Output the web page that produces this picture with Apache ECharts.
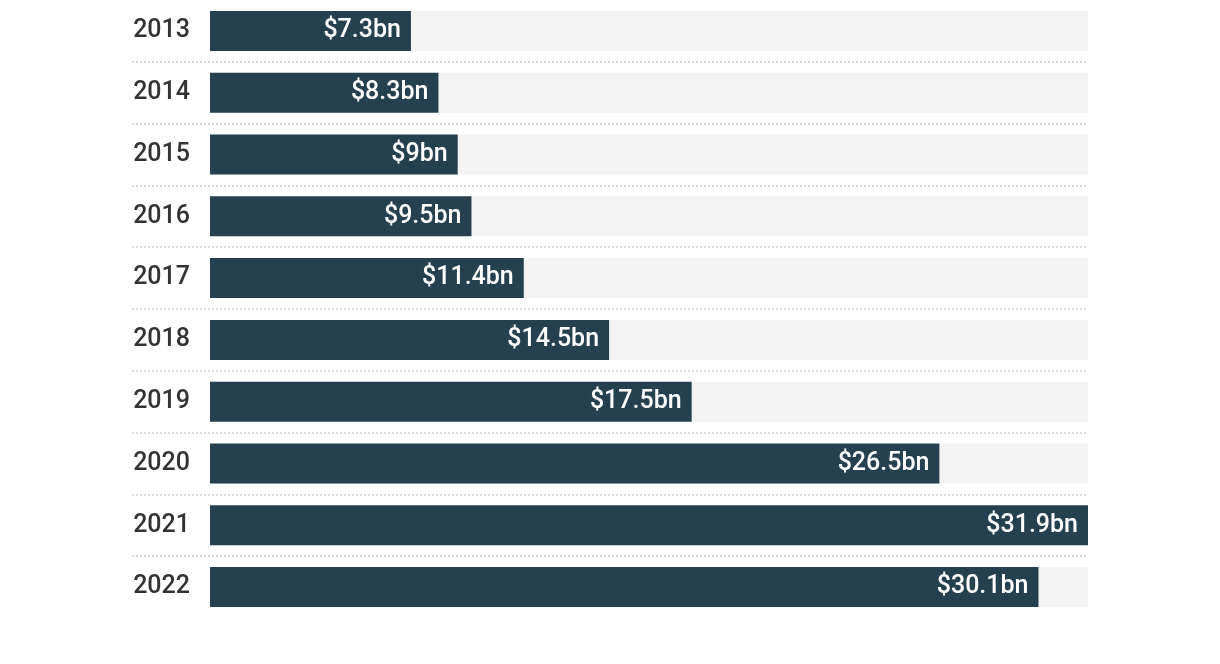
<!DOCTYPE html>
<html>
<head>
<meta charset="utf-8">
<script src="https://cdn.jsdelivr.net/npm/echarts@6/dist/echarts.min.js"></script>
<style>
html,body{margin:0;padding:0;background:#fff;}
#c{width:1220px;height:664px;}
</style>
</head>
<body>
<div id="c"></div>
<script>
const years = ['2013','2014','2015','2016','2017','2018','2019','2020','2021','2022'];
const values = [7.3, 8.3, 9, 9.5, 11.4, 14.5, 17.5, 26.5, 31.9, 30.1];
const valueLabels = ['$7.3bn','$8.3bn','$9bn','$9.5bn','$11.4bn','$14.5bn','$17.5bn','$26.5bn','$31.9bn','$30.1bn'];

const chart = echarts.init(document.getElementById('c'));
const FONT = 'Roboto';
chart.setOption({
  animation: false,
  grid: [
    {left: 210, right: 132, top: -2, height: 620},
    {left: 132, right: 132, top: -2, height: 620}
  ],
  xAxis: [
    {gridIndex: 0, type: 'value', min: 0, max: 31.9, show: false},
    {gridIndex: 1, type: 'value', min: 0, max: 1, show: false}
  ],
  yAxis: [
    {
      gridIndex: 0, type: 'category', data: years, inverse: true,
      axisLine: {show: false}, axisTick: {show: false},
      axisLabel: {margin: 20, fontSize: 25, fontWeight: 500, color: '#333', fontFamily: FONT}
    },
    {
      gridIndex: 1, type: 'category', data: years, inverse: true,
      axisLine: {show: false}, axisTick: {show: false}, axisLabel: {show: false},
      splitLine: {show: true, showMinLine: false, showMaxLine: false,
        lineStyle: {color: '#dadada', type: [2, 2], width: 2}}
    }
  ],
  series: [{
    type: 'bar',
    xAxisIndex: 0, yAxisIndex: 0,
    data: values,
    barWidth: 40,
    showBackground: true,
    backgroundStyle: {color: '#f3f3f3'},
    itemStyle: {color: '#25404f'},
    label: {
      show: true, position: 'insideRight', distance: 10,
      color: '#fff', fontSize: 25, fontWeight: 500, fontFamily: FONT,
      formatter: p => valueLabels[p.dataIndex]
    },
    z: 3
  }]
});
</script>
</body>
</html>
